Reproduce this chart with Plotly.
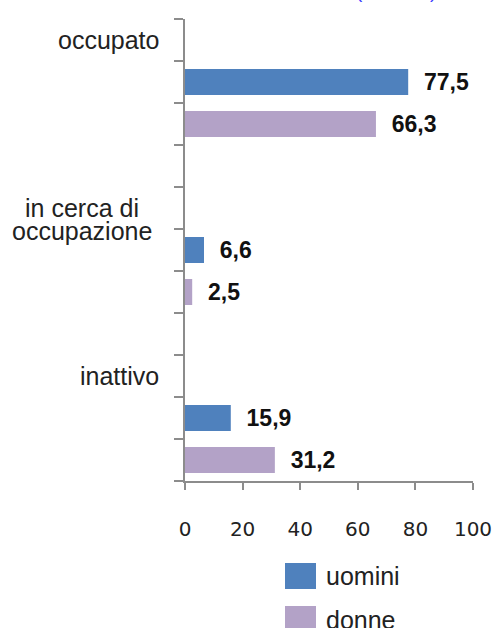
import plotly.graph_objects as go

# data
categories = ["occupato", "in cerca di occupazione", "inattivo"]
label_lines = [["occupato"], ["in cerca di", "occupazione"], ["inattivo"]]
uomini = [77.5, 6.6, 15.9]
donne = [66.3, 2.5, 31.2]
series_names = ["uomini", "donne"]
x_ticks = [0, 20, 40, 60, 80, 100]
top_note = "(valori %)"

COLORS = {"uomini": "#4F81BD", "donne": "#B3A2C7"}
AXIS_GREY = "#8c8c8c"
NARROW = "Liberation Sans Narrow, Arial Narrow, Liberation Sans, Arial, sans-serif"

# each category takes 4 rows: label, uomini, donne, blank (last blank dropped)
ROWS_PER_CAT = 4
n_rows = ROWS_PER_CAT * len(categories) - 1
label_rows = [ROWS_PER_CAT * i for i in range(len(categories))]
u_rows = [r + 1 for r in label_rows]
d_rows = [r + 2 for r in label_rows]

W, H = 495, 628
# plot area in pixels: x 185..473, y 19..481
L, T = 185, 19
R, B = W - 473, H - 481
PW, PH = W - L - R, H - T - B


def px_x(px):
    return (px - L) / PW


def px_y(py):
    return 1 - (py - T) / PH


def fmt(v):
    return "\u00a0\u00a0" + f"{v:.1f}".replace(".", ",")


fig = go.Figure()
for name, vals, rows in [("uomini", uomini, u_rows), ("donne", donne, d_rows)]:
    fig.add_trace(
        go.Bar(
            x=vals,
            y=rows,
            orientation="h",
            name=name,
            width=0.62,
            marker=dict(color=COLORS[name], line=dict(width=0)),
            text=[fmt(v) for v in vals],
            textposition="outside",
            textfont=dict(family=NARROW, size=23, color="#111", weight="bold"),
            cliponaxis=False,
            showlegend=False,
        )
    )

annotations = []
for lines, row in zip(label_lines, label_rows):
    if len(lines) == 1:
        annotations.append(dict(
            x=0, y=row, xref="x", yref="y", text=lines[0], showarrow=False,
            xanchor="right", yanchor="middle", xshift=-24,
            font=dict(family=NARROW, size=25, color="#222"),
        ))
    else:
        for k, line in enumerate(lines):
            annotations.append(dict(
                x=0, y=row, xref="x", yref="y", text=line, showarrow=False,
                xanchor="center", yanchor="middle", xshift=-103, yshift=-23 * k,
                font=dict(family=NARROW, size=25, color="#222"),
            ))

# legend drawn by hand (big swatches)
shapes = []
legend_y = [(563, 589, 576), (606, 632, 620)]
for name, (y0, y1, yc) in zip(series_names, legend_y):
    shapes.append(dict(
        type="rect", xref="paper", yref="paper",
        x0=px_x(285), x1=px_x(316), y0=px_y(y1), y1=px_y(y0),
        fillcolor=COLORS[name], line=dict(width=0),
    ))
    annotations.append(dict(
        x=px_x(324), y=px_y(yc), xref="paper", yref="paper", text=name,
        showarrow=False, xanchor="left", yanchor="middle",
        font=dict(family=NARROW, size=25, color="#222"),
    ))

# title line of the original, mostly outside the crop
annotations.append(dict(
    x=px_x(396), y=px_y(-8), xref="paper", yref="paper", text=top_note,
    showarrow=False, xanchor="center", yanchor="middle",
    font=dict(family=NARROW, size=19, color="#3a3aff"),
))

fig.update_layout(
    width=W,
    height=H,
    margin=dict(l=L, r=R, t=T, b=B, autoexpand=False),
    paper_bgcolor="white",
    plot_bgcolor="white",
    barmode="overlay",
    showlegend=False,
    annotations=annotations,
    shapes=shapes,
    xaxis=dict(
        range=[0, 100],
        tickvals=x_ticks,
        ticks="outside",
        ticklen=7,
        tickwidth=1.5,
        tickcolor=AXIS_GREY,
        showline=True,
        linecolor=AXIS_GREY,
        linewidth=1.5,
        showgrid=False,
        zeroline=False,
        automargin=False,
        ticklabelstandoff=22,
        tickfont=dict(family="DejaVu Sans, Verdana, sans-serif", size=20, color="#222"),
    ),
    yaxis=dict(
        range=[n_rows - 0.5, -0.5],
        tickvals=[r - 0.5 for r in range(n_rows + 1)],
        showticklabels=False,
        ticks="outside",
        ticklen=9,
        tickwidth=1.5,
        tickcolor=AXIS_GREY,
        showline=True,
        linecolor=AXIS_GREY,
        linewidth=1.5,
        showgrid=False,
        zeroline=False,
        automargin=False,
    ),
)

# drop the default 8px body margin so the figure fills the window
fig.write_html(
    "out.html",
    config={"displayModeBar": False},
    post_script="document.body.style.margin = '0';",
)
